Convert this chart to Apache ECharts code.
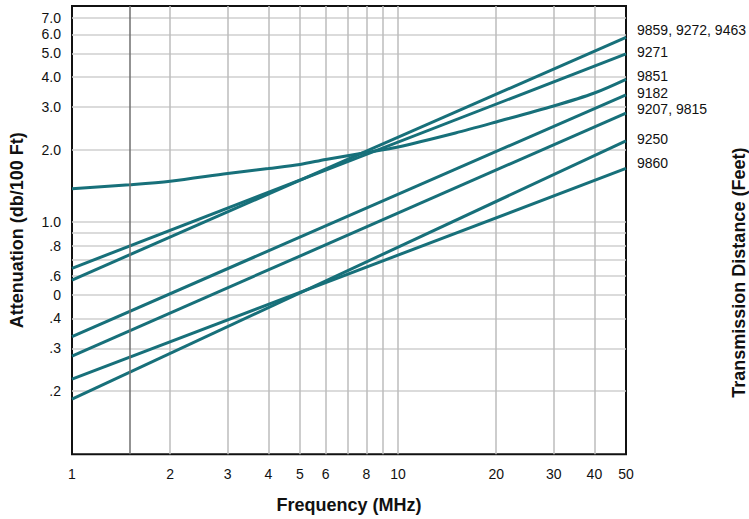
<!DOCTYPE html>
<html>
<head>
<meta charset="utf-8">
<script src="https://cdn.jsdelivr.net/npm/echarts@6/dist/echarts.min.js"></script>
<style>
html,body{margin:0;padding:0;background:#fff;}
#chart{width:749px;height:519px;}
</style>
</head>
<body>
<div id="chart"></div>
<script>
// ---- data ----
const freqEnds = [1, 50];                       // MHz, straight-line cables
const att9859 = [0.576, 5.83];                  // dB/100ft  "9859, 9272, 9463"
const att9271 = [0.644, 4.98];
const att9182 = [0.336, 3.37];
const att9207 = [0.279, 2.83];
const att9250 = [0.185, 2.17];
const att9860 = [0.224, 1.67];
const curveFreq = [1, 1.5, 2, 3, 4, 5, 6, 8, 10, 15, 20, 30, 40, 50];
const att9851 = [1.377, 1.429, 1.477, 1.591, 1.669, 1.734, 1.819, 1.944, 2.049, 2.342, 2.601, 3.029, 3.429, 3.908];

const seriesNames = ['9859, 9272, 9463', '9271', '9851', '9182', '9207, 9815', '9250', '9860'];

const xLabelValues = [1, 2, 3, 4, 5, 6, 8, 10, 20, 30, 40, 50];
const xGridValues = [2, 3, 4, 5, 6, 7, 8, 9, 10, 20, 30, 40];
const yLabelValues = [0.2, 0.3, 0.4, 0.5, 0.6, 0.8, 1, 2, 3, 4, 5, 6, 7];
const yLabelTexts = ['.2', '.3', '.4', '0', '.6', '.8', '1.0', '2.0', '3.0', '4.0', '5.0', '6.0', '7.0'];
const yGridValues = [0.2, 0.3, 0.4, 0.5, 0.6, 0.7, 0.8, 0.9, 1, 2, 3, 4, 5, 6, 7];

// ---- chart ----
const FONT = '"Liberation Sans", Arial, Helvetica, sans-serif';
const TEAL = '#17707a';
const pair = (xs, ys) => xs.map((x, i) => [x, ys[i]]);

const lineSets = [
  [seriesNames[0], pair(freqEnds, att9859), -7, false],
  [seriesNames[1], pair(freqEnds, att9271), -2, false],
  [seriesNames[2], pair(curveFreq, att9851), -3, true],
  [seriesNames[3], pair(freqEnds, att9182), -2, false],
  [seriesNames[4], pair(freqEnds, att9207), -4, false],
  [seriesNames[5], pair(freqEnds, att9250), -2, false],
  [seriesNames[6], pair(freqEnds, att9860), -5, false]
];

const series = lineSets.map(([name, data, dy, smooth]) => ({
  name: name,
  type: 'line',
  data: data,
  smooth: smooth ? 0.3 : false,
  showSymbol: false,
  symbol: 'none',
  silent: true,
  animation: false,
  lineStyle: { color: TEAL, width: 3 },
  endLabel: {
    show: true,
    formatter: '{a}',
    color: '#111',
    fontSize: 14,
    fontFamily: FONT,
    distance: 11,
    offset: [0, dy]
  }
}));

series.push({
  type: 'line',
  data: [],
  silent: true,
  animation: false,
  markLine: {
    silent: true,
    symbol: 'none',
    label: { show: false },
    lineStyle: { color: '#6f6f6f', width: 1.5, type: 'solid' },
    data: [{ xAxis: 1.5 }]
  }
});

const chart = echarts.init(document.getElementById('chart'), null, { renderer: 'svg' });
chart.setOption({
  animation: false,
  backgroundColor: '#ffffff',
  textStyle: { fontFamily: FONT },
  grid: {
    left: 72, right: 123, top: 6, bottom: 64.7,
    show: true, borderColor: '#111', borderWidth: 2,
    containLabel: false, outerBoundsMode: 'none'
  },
  xAxis: {
    type: 'log', logBase: 10, min: 1, max: 50,
    name: 'Frequency (MHz)', nameLocation: 'middle', nameGap: 42,
    nameTextStyle: { fontSize: 18, fontWeight: 'bold', color: '#111', fontFamily: FONT },
    axisLine: { show: false },
    axisTick: { show: false, customValues: xGridValues },
    axisLabel: {
      customValues: xLabelValues, margin: 13, color: '#111', fontSize: 14, fontFamily: FONT,
      formatter: v => String(Math.round(v))
    },
    splitLine: { show: true, lineStyle: { color: '#bdbdbd', width: 1.5 } },
    minorSplitLine: { show: false }
  },
  yAxis: [{
    type: 'log', logBase: 10, min: 0.1093, max: 7.86, position: 'left',
    name: 'Attenuation (db/100 Ft)', nameLocation: 'middle', nameRotate: 90, nameGap: 46,
    nameTextStyle: { fontSize: 18, fontWeight: 'bold', color: '#111', fontFamily: FONT },
    axisLine: { show: false },
    axisTick: { show: false, customValues: yGridValues },
    axisLabel: {
      customValues: yLabelValues, margin: 11, color: '#111', fontSize: 14, fontFamily: FONT,
      formatter: v => {
        let best = 0, bd = Infinity;
        yLabelValues.forEach((t, i) => { const d = Math.abs(Math.log(t) - Math.log(v)); if (d < bd) { bd = d; best = i; } });
        return yLabelTexts[best];
      }
    },
    splitLine: { show: true, lineStyle: { color: '#cfcfcf', width: 1.5 } }
  }, {
    type: 'log', logBase: 10, min: 0.1093, max: 7.86, position: 'right',
    name: 'Transmission Distance (Feet)', nameLocation: 'middle', nameRotate: 90, nameGap: 104,
    nameTextStyle: { fontSize: 18, fontWeight: 'bold', color: '#111', fontFamily: FONT, padding: [0, 85, 0, 0] },
    axisLine: { show: false }, axisTick: { show: false }, axisLabel: { show: false },
    splitLine: { show: false }
  }],
  series: series
});
</script>
</body>
</html>
